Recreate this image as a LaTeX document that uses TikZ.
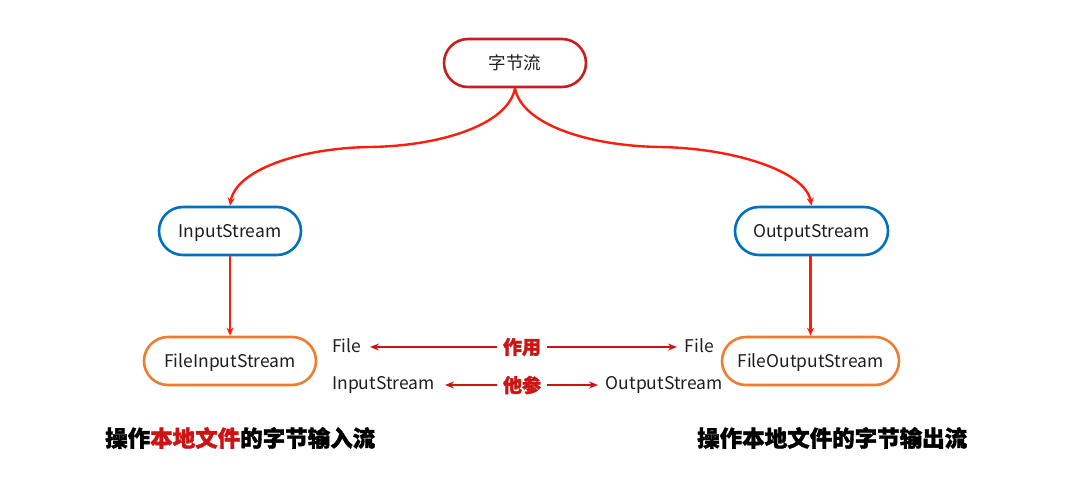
\documentclass[tikz,border=0pt]{standalone}
\usepackage{fontspec}
\setmainfont{Noto Sans CJK SC}
\newfontfamily\heavyfont[BoldFeatures={FakeBold=1.6}]{Noto Sans CJK SC}
\usetikzlibrary{arrows.meta}
\definecolor{topred}{RGB}{200,30,30}
\definecolor{linkred}{RGB}{250,30,15}
\definecolor{midred}{RGB}{205,20,20}
\definecolor{boxblue}{RGB}{0,112,192}
\definecolor{boxorange}{RGB}{237,125,49}
\definecolor{txt}{RGB}{30,30,30}
\begin{document}
\begin{tikzpicture}[x=1pt,y=-1pt,
  pill/.style={draw,line width=2.6pt,rounded corners=24pt,minimum height=48pt,inner sep=0pt,font=\fontsize{17.5}{19}\selectfont,text=txt,fill=white,text height=16pt,text depth=3pt},
  link/.style={draw=linkred,line width=2.4pt,-{Stealth[length=8pt,width=7pt]}},
  midarrow/.style={draw=midred,line width=2.4pt,-{Stealth[length=9pt,width=7pt]}},
  lbl/.style={font=\fontsize{17.5}{19}\selectfont,text=txt,inner sep=0pt},
  redlbl/.style={font=\fontsize{19}{21}\selectfont\heavyfont\bfseries,text=midred,inner sep=0pt},
  captxt/.style={font=\fontsize{22.5}{24}\selectfont\heavyfont\bfseries,text=black,inner sep=0pt}]
\useasboundingbox (0,0) rectangle (1074,503);
\node[pill,draw=topred,minimum width=142pt] (byte) at (515,63) {字节流};
\node[pill,draw=boxblue,minimum width=142pt] (in) at (230,231) {InputStream};
\node[pill,draw=boxblue,minimum width=153pt] (out) at (811.5,231) {OutputStream};
\node[pill,draw=boxorange,minimum width=172pt] (fin) at (230,361) {FileInputStream};
\node[pill,draw=boxorange,minimum width=177pt] (fout) at (810.5,361) {FileOutputStream};
\coordinate (lm) at (370,147);
\coordinate (rm) at (660,147);
\draw[link] (byte.south) .. controls (508,125) and (440,146) .. (lm) .. controls (300,148) and (236,170) .. (in.north);
\draw[link] (byte.south) .. controls (522,125) and (590,146) .. (rm) .. controls (730,148) and (805,170) .. (out.north);
\draw[link] (in.south) -- (fin.north);
\draw[link] (out.south -| fout.north) -- (fout.north);
\node[lbl,anchor=west] (f1) at (332,346) {File};
\node[lbl,anchor=east] (f2) at (714,346) {File};
\node[lbl,anchor=west] (is) at (332,385) {InputStream};
\node[lbl,anchor=east] (os) at (723,385) {OutputStream};
\node[redlbl] (zy) at (522,347) {作用};
\node[redlbl] (tc) at (522,385) {他参};
\coordinate (a1) at (370,347);
\coordinate (a2) at (677,347);
\coordinate (a3) at (445,385);
\coordinate (a4) at (598,385);
\draw[midarrow] ([xshift=-6pt]zy.west) -- (a1);
\draw[midarrow] ([xshift=6pt]zy.east) -- (a2);
\draw[midarrow] ([xshift=-6pt]tc.west) -- (a3);
\draw[midarrow] ([xshift=6pt]tc.east) -- (a4);
\node[captxt,anchor=west] (c1) at (105,438) {操作\textcolor{midred}{本地文件}的字节输入流};
\node[captxt,anchor=west] (c2) at (697,438) {操作本地文件的字节输出流};
\end{tikzpicture}
\end{document}
